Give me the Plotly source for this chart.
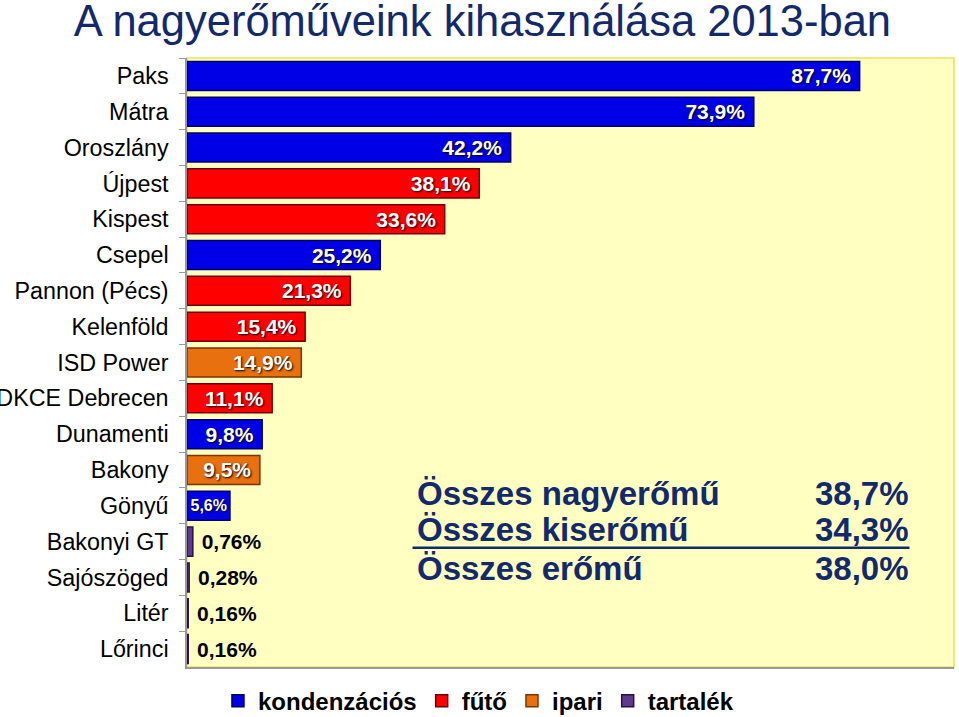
import plotly.graph_objects as go

# ---- data ----
plants = ["Paks", "Mátra", "Oroszlány", "Újpest", "Kispest", "Csepel", "Pannon (Pécs)",
          "Kelenföld", "ISD Power", "DKCE Debrecen", "Dunamenti", "Bakony", "Gönyű",
          "Bakonyi GT", "Sajószöged", "Litér", "Lőrinci"]
utilisation = [87.7, 73.9, 42.2, 38.1, 33.6, 25.2, 21.3, 15.4, 14.9, 11.1, 9.8, 9.5, 5.6,
               0.76, 0.28, 0.16, 0.16]
plant_type = ["kondenzációs", "kondenzációs", "kondenzációs", "fűtő", "fűtő", "kondenzációs",
              "fűtő", "fűtő", "ipari", "fűtő", "kondenzációs", "ipari", "kondenzációs",
              "tartalék", "tartalék", "tartalék", "tartalék"]
type_order = ["kondenzációs", "fűtő", "ipari", "tartalék"]
type_colors = {"kondenzációs": "#0000E6", "fűtő": "#FF0000", "ipari": "#E8700E", "tartalék": "#5E3A8E"}
type_edges = {"kondenzációs": "#000066", "fűtő": "#700000", "ipari": "#7A3500", "tartalék": "#2A1040"}

summary_labels = ["Összes nagyerőmű", "Összes kiserőmű", "Összes erőmű"]
summary_values = [38.7, 34.3, 38.0]

title = "A nagyerőműveink kihasználása 2013-ban"

NBSP = "\u00a0"


def fmt(v):
    s = f"{v:.2f}" if v < 1 else f"{v:.1f}"
    return s.replace(".", ",") + "%"


FONT = "Arial, 'Liberation Sans', sans-serif"
NAVY = "#12296C"

fig = go.Figure()
for t in type_order:
    idx = [i for i, p in enumerate(plant_type) if p == t]
    xs = [utilisation[i] for i in idx]
    ys = [plants[i] for i in idx]
    inside = [v > 3 for v in xs]
    big = [v > 8 for v in xs]
    fig.add_trace(go.Bar(
        x=xs, y=ys, orientation="h", name=t,
        marker=dict(color=type_colors[t], line=dict(color=type_edges[t], width=1.5)),
        text=[(fmt(v) + (NBSP if b else "")) if ins else (NBSP + fmt(v))
              for v, ins, b in zip(xs, inside, big)],
        textposition=["inside" if ins else "outside" for ins in inside],
        insidetextanchor="end",
        constraintext="none",
        insidetextfont=dict(family=FONT, size=[21 if b else 16 for b in big], color="white",
                            weight="bold", shadow="1px 1px 2px #000"),
        outsidetextfont=dict(family=FONT, size=21, color="black", weight="bold"),
        cliponaxis=False,
        hoverinfo="skip",
    ))

# summary text block
rows_y = [0.2857, 0.226, 0.161]
for lab, val, yy in zip(summary_labels, summary_values, rows_y):
    fig.add_annotation(xref="paper", yref="paper", x=0.297, y=yy, xanchor="left", yanchor="middle",
                       text=lab, showarrow=False,
                       font=dict(family=FONT, size=33, color=NAVY, weight="bold"))
    fig.add_annotation(xref="paper", yref="paper", x=0.944, y=yy, xanchor="right", yanchor="middle",
                       text=fmt(val), showarrow=False,
                       font=dict(family=FONT, size=33, color=NAVY, weight="bold"))
fig.add_shape(type="line", xref="paper", yref="paper", x0=0.294, x1=0.942, y0=0.196, y1=0.196,
              line=dict(color=NAVY, width=2.5))
fig.add_shape(type="rect", xref="paper", yref="paper", x0=0, x1=1, y0=0, y1=1,
              line=dict(color="#EFE97A", width=2), layer="below")

fig.update_layout(
    width=959, height=717,
    margin=dict(l=187, r=5, t=58, b=50, autoexpand=False),
    paper_bgcolor="white",
    plot_bgcolor="#FFFFC2",
    barmode="overlay",
    bargap=0.19,
    showlegend=True,
    title=dict(text=title, x=0.503, xanchor="center", y=0.971, yanchor="middle", yref="container",
               font=dict(family=FONT, size=43.5, color=NAVY)),
    legend=dict(orientation="h", x=0.380, xanchor="center", y=-0.056, yanchor="middle",
                font=dict(family=FONT, size=24, color="black", weight="bold"),
                itemwidth=30, traceorder="normal", bgcolor="rgba(0,0,0,0)"),
    font=dict(family=FONT),
)
fig.update_xaxes(range=[0, 100], showticklabels=False, showgrid=False, zeroline=False,
                 showline=True, linecolor="#999999", linewidth=2, ticks="", fixedrange=True)
fig.update_yaxes(categoryorder="array", categoryarray=plants, autorange="reversed",
                 showgrid=False, showline=True, linecolor="#999999", linewidth=1.5,
                 ticks="outside", tickson="boundaries", ticklen=6, tickcolor="#999999",
                 ticklabelstandoff=12,
                 tickfont=dict(family=FONT, size=23.3, color="black"), automargin=False)

fig.write_html("out.html", config={"displayModeBar": False},
               post_script="document.body.style.margin='0';")
